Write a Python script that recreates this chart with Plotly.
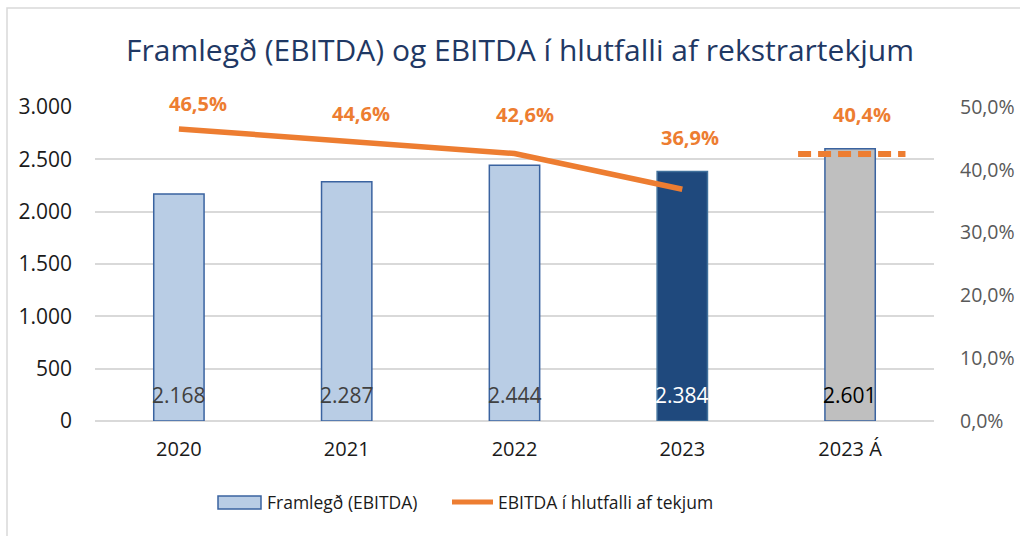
import plotly.graph_objects as go

# ---------------- data ----------------
categories = ["2020", "2021", "2022", "2023", "2023 Á"]
ebitda = [2168, 2287, 2444, 2384, 2601]
ebitda_labels = ["2.168", "2.287", "2.444", "2.384", "2.601"]
pct_years = ["2020", "2021", "2022", "2023"]
pct_values = [0.465, 0.446, 0.426, 0.369]
estimate_cat = ["2023 Á"]
estimate_pct = [0.425]
pct_labels = ["46,5%", "44,6%", "42,6%", "36,9%", "40,4%"]
title_text = "Framlegð (EBITDA) og EBITDA í hlutfalli af rekstrartekjum"
legend_names = ["Framlegð (EBITDA)", "EBITDA í hlutfalli af tekjum"]

# ---------------- styles ----------------
FONT = "Open Sans"
W, H = 1020, 536
L, R, T, B = 95, 86, 107, 115
PW, PH = W - L - R, H - T - B
ORANGE = "#ED7D31"
bar_fill = ["#B9CDE5", "#B9CDE5", "#B9CDE5", "#1F497D", "#BFBFBF"]
bar_line = ["#3A63A0", "#3A63A0", "#3A63A0", "#41719C", "#3A63A0"]
bar_text_col = ["#404040", "#404040", "#404040", "#FFFFFF", "#000000"]
lbl_xshift = [19, 14, 10, 8, 12]
lbl_yshift = [25, 27, 39, 52, 40]


def px2x(px):
    return (px - L) / PW


def py2y(py):
    return (T + PH - py) / PH


fig = go.Figure()

fig.add_trace(go.Bar(
    x=categories, y=ebitda, width=0.3,
    marker=dict(color=bar_fill, line=dict(color=bar_line, width=1.5)),
    name=legend_names[0], showlegend=False, hoverinfo="skip",
))

fig.add_trace(go.Scatter(
    x=pct_years, y=pct_values, yaxis="y2", mode="lines",
    line=dict(color=ORANGE, width=5.5),
    name=legend_names[1], showlegend=False, hoverinfo="skip",
))

# dashed estimate marker for 2023 Á
est_idx = categories.index(estimate_cat[0])
fig.add_shape(type="line", xref="x", yref="y2",
              x0=est_idx - 0.31, x1=est_idx + 0.33,
              y0=estimate_pct[0], y1=estimate_pct[0],
              line=dict(color=ORANGE, width=6, dash="13px,7px"), layer="above")

annotations = []
# bar value labels (x as category index)
for i, (lab, col) in enumerate(zip(ebitda_labels, bar_text_col)):
    annotations.append(dict(x=i, y=0, xref="x", yref="y", text=lab, showarrow=False,
                            yanchor="middle", yshift=26,
                            font=dict(family=FONT, size=21, color=col)))
# percentage labels
pct_x = [categories.index(c) for c in pct_years + estimate_cat]
pct_y = pct_values + estimate_pct
for i, (c, v, lab) in enumerate(zip(pct_x, pct_y, pct_labels)):
    annotations.append(dict(x=c, y=v, xref="x", yref="y2", text=f"<b>{lab}</b>",
                            showarrow=False, yanchor="middle",
                            xshift=lbl_xshift[i], yshift=lbl_yshift[i],
                            font=dict(family=FONT, size=20, color=ORANGE)))
# manual legend texts
annotations.append(dict(x=px2x(265), y=py2y(502), xref="paper", yref="paper",
                        text=legend_names[0], showarrow=False, xanchor="left",
                        yanchor="middle", font=dict(family=FONT, size=17.5, color="#1A1A1A")))
annotations.append(dict(x=px2x(496), y=py2y(502), xref="paper", yref="paper",
                        text=legend_names[1], showarrow=False, xanchor="left",
                        yanchor="middle", font=dict(family=FONT, size=17.5, color="#1A1A1A")))

# legend bar swatch
fig.add_shape(type="rect", xref="paper", yref="paper",
              x0=px2x(218), x1=px2x(261), y0=py2y(509), y1=py2y(496),
              fillcolor="#B9CDE5", line=dict(color="#3A63A0", width=1.5),
              layer="above")
# legend line swatch
fig.add_shape(type="line", xref="paper", yref="paper",
              x0=px2x(452), x1=px2x(493), y0=py2y(502), y1=py2y(502),
              line=dict(color=ORANGE, width=5))
# chart border
fig.add_shape(type="rect", xref="paper", yref="paper",
              x0=px2x(7), x1=px2x(1030), y0=py2y(560), y1=py2y(8),
              line=dict(color="#D9D9D9", width=1.5),
              fillcolor="rgba(0,0,0,0)", layer="below")

fig.update_layout(
    width=W, height=H,
    margin=dict(l=L, r=R, t=T, b=B, pad=0, autoexpand=False),
    paper_bgcolor="white", plot_bgcolor="white",
    separators=",.",
    showlegend=False,
    title=dict(text=title_text, x=520 / W, xref="container", xanchor="center",
               y=1 - 50 / H, yref="container", yanchor="middle",
               font=dict(family=FONT, size=30, color="#1F3864")),
    xaxis=dict(type="category", categoryorder="array", categoryarray=categories,
               range=[-0.5, 4.5], showgrid=False, showline=False, ticks="",
               ticklabelstandoff=14, automargin=False,
               tickfont=dict(family=FONT, size=20, color="#1A1A1A")),
    yaxis=dict(range=[0, 3000], dtick=500, tickformat=",.0f",
               showgrid=True, gridcolor="#D9D9D9", gridwidth=1.5,
               zeroline=True, zerolinecolor="#D9D9D9", zerolinewidth=1.5,
               showline=False, ticks="", ticklabelstandoff=22, automargin=False,
               tickfont=dict(family=FONT, size=21, color="#1A1A1A")),
    yaxis2=dict(range=[0, 0.5], dtick=0.1, tickformat=".1%", overlaying="y",
                side="right", showgrid=False, zeroline=False, showline=False,
                ticks="", ticklabelstandoff=25, automargin=False,
                tickfont=dict(family=FONT, size=19.5, color="#595959")),
    annotations=annotations,
    bargap=0.7,
)

fig.write_html("out.html", config={"displayModeBar": False},
               post_script="document.body.style.margin='0';")
